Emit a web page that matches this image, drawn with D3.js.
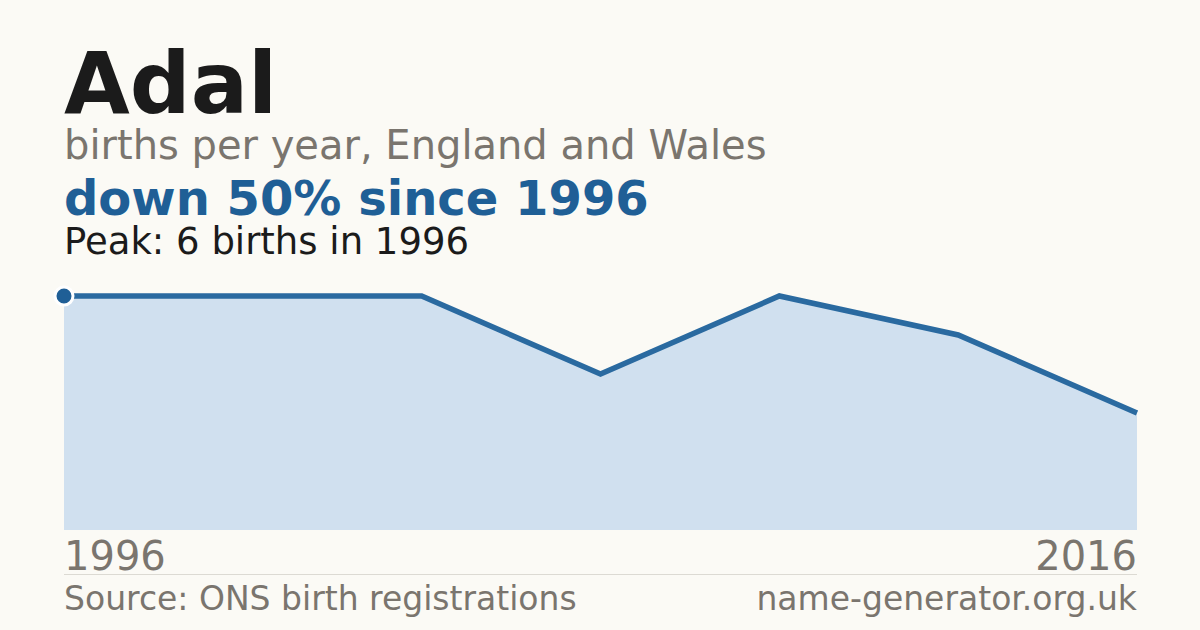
<!DOCTYPE html>
<html>
<head>
<meta charset="utf-8">
<script src="https://cdn.jsdelivr.net/npm/d3@7"></script>
<style>
  html, body { margin: 0; padding: 0; background: #fbfaf5; }
  svg { display: block; font-family: "DejaVu Sans", sans-serif; }
</style>
</head>
<body>
<div id="chart"></div>
<script>
const years = [1996, 1999, 2003, 2006, 2009, 2013, 2016];
const births = [6, 6, 6, 4, 6, 5, 3];
const axisLabels = ["1996", "2016"];

const width = 1200;
const height = 630;
const margin = { left: 64, right: 63, top: 296, bottom: 100 };

const x = d3.scalePoint()
    .domain(years)
    .range([margin.left, width - margin.right]);

const y = d3.scaleLinear()
    .domain([0, d3.max(births)])
    .range([height - margin.bottom, margin.top]);

const data = years.map((yr, i) => ({ year: yr, value: births[i] }));

const svg = d3.select("#chart").append("svg")
    .attr("width", width)
    .attr("height", height)
    .attr("viewBox", [0, 0, width, height]);

svg.append("rect")
    .attr("width", width)
    .attr("height", height)
    .attr("fill", "#fbfaf5");

// headings
svg.append("text")
    .attr("x", 64).attr("y", 113)
    .attr("fill", "#1b1b1b")
    .style("font-weight", "bold")
    .style("font-size", "85px")
    .text("Adal");

svg.append("text")
    .attr("x", 64).attr("y", 159)
    .attr("fill", "#7a756e")
    .style("font-size", "40px")
    .text("births per year, England and Wales");

svg.append("text")
    .attr("x", 64).attr("y", 215)
    .attr("fill", "#1f5f96")
    .style("font-weight", "bold")
    .style("font-size", "48px")
    .text("down 50% since 1996");

svg.append("text")
    .attr("x", 64).attr("y", 254)
    .attr("fill", "#1b1b1b")
    .style("font-size", "37px")
    .text("Peak: 6 births in 1996");

// area + line
const area = d3.area()
    .x(d => x(d.year))
    .y0(y(0))
    .y1(d => y(d.value));

const line = d3.line()
    .x(d => x(d.year))
    .y(d => y(d.value));

svg.append("path")
    .datum(data)
    .attr("fill", "#d0e0ef")
    .attr("d", area);

svg.append("path")
    .datum(data)
    .attr("fill", "none")
    .attr("stroke", "#2a6aa0")
    .attr("stroke-width", 5.5)
    .attr("stroke-linejoin", "miter")
    .attr("d", line);

const peak = data[d3.maxIndex(data, d => d.value)];
svg.append("circle")
    .attr("cx", x(peak.year))
    .attr("cy", y(peak.value))
    .attr("r", 9)
    .attr("fill", "#1f5f96")
    .attr("stroke", "#ffffff")
    .attr("stroke-width", 3);

// x labels
const xEnds = [years[0], years[years.length - 1]];
svg.selectAll("text.xlab")
    .data(axisLabels)
    .join("text")
    .attr("class", "xlab")
    .attr("x", (d, i) => x(xEnds[i]))
    .attr("y", 570)
    .attr("text-anchor", (d, i) => i === 0 ? "start" : "end")
    .attr("fill", "#7a756e")
    .style("font-size", "40px")
    .text(d => d);

svg.append("line")
    .attr("x1", margin.left).attr("x2", width - margin.right)
    .attr("y1", 574.5).attr("y2", 574.5)
    .attr("stroke", "#dcdad3")
    .attr("stroke-width", 1);

// footer
svg.append("text")
    .attr("x", 64).attr("y", 610)
    .attr("fill", "#7a756e")
    .style("font-size", "33px")
    .text("Source: ONS birth registrations");

svg.append("text")
    .attr("x", width - margin.right).attr("y", 610)
    .attr("text-anchor", "end")
    .attr("fill", "#7a756e")
    .style("font-size", "33px")
    .text("name-generator.org.uk");
</script>
</body>
</html>
